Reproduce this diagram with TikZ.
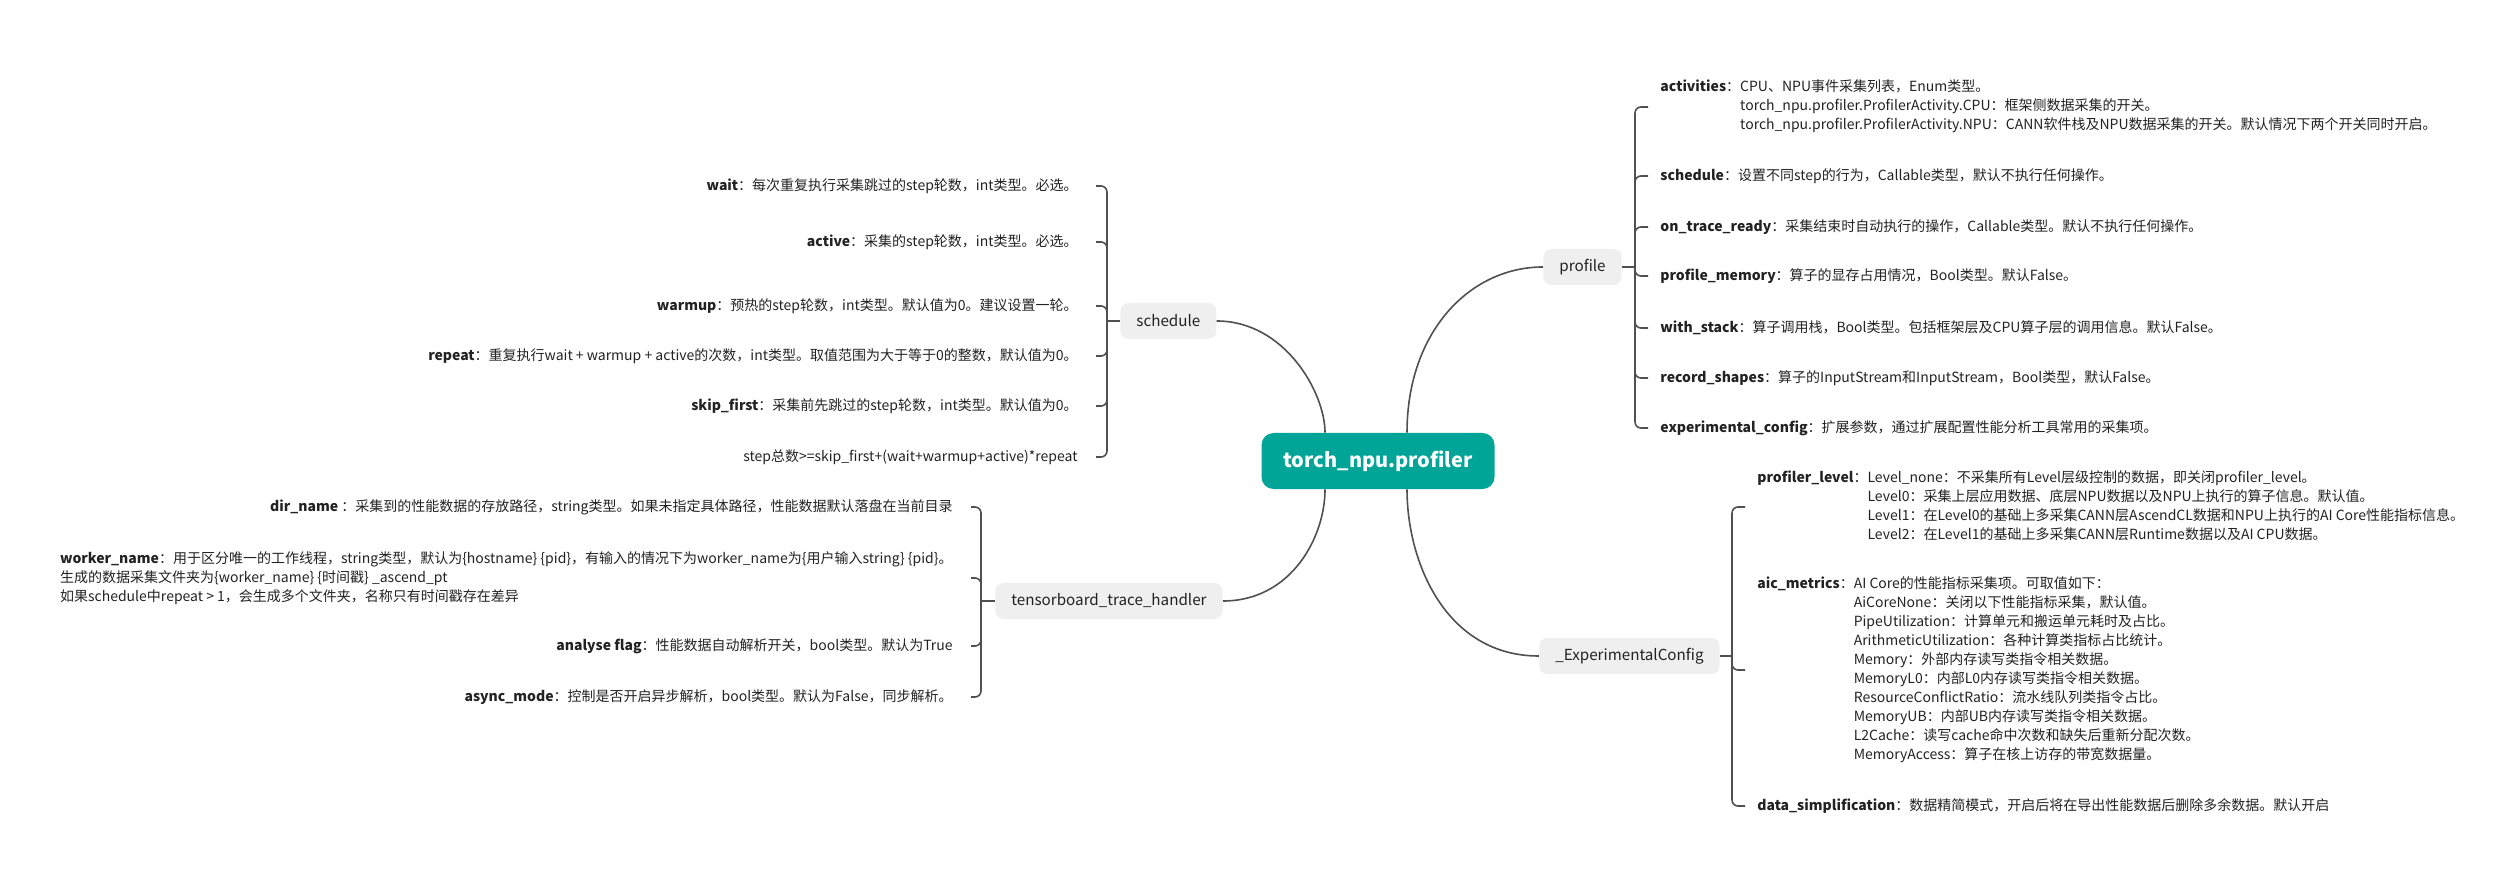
\documentclass[tikz,border=0pt]{standalone}
\usepackage{fontspec}
\setmainfont{Noto Sans CJK SC}
\usetikzlibrary{positioning}
\definecolor{rootteal}{RGB}{0,165,151}
\definecolor{topicgray}{RGB}{239,239,239}
\definecolor{linegray}{RGB}{80,80,80}
\definecolor{inkdark}{RGB}{34,34,34}
\tikzset{
  % Central topic
  root/.style={
    fill=rootteal, text=white, rounded corners=6pt,
    font=\fontsize{10}{12}\selectfont\bfseries,
    minimum height=28pt, inner xsep=11pt
  },
  % Main branches
  topic/.style={
    fill=topicgray, text=inkdark, rounded corners=4pt,
    font=\fontsize{7.6}{9.5}\selectfont,
    minimum height=18pt, inner xsep=8pt
  },
  % Leaf texts
  leaf/.style={
    text=inkdark, font=\fontsize{7}{9.5}\selectfont,
    inner xsep=6pt, inner ysep=1pt
  },
  leafL/.style={leaf, anchor=east, inner xsep=9pt},
  leafR/.style={leaf, anchor=west},
  % Connectors
  branch/.style={draw=linegray, line width=0.8pt},
  bracket/.style={draw=linegray, line width=0.8pt, rounded corners=3pt},
}
\newcommand{\itemkey}[1]{\textbf{#1}：}
\newcommand{\subrows}[1]{\begin{tabular}[t]{@{}l@{}}#1\end{tabular}}

\begin{document}
\begin{tikzpicture}[x=0.5pt, y=-0.5pt]
  \useasboundingbox (0,0) rectangle (2503,876);

  %% ── Topics ──
  \node[root] (root) at (1378,461) {torch\_npu.profiler};
  \node[topic, anchor=west] (sched) at (1120,321) {schedule};
  \node[topic, anchor=west] (tbh)   at (995,601)  {tensorboard\_trace\_handler};
  \node[topic, anchor=east] (prof)  at (1622,267) {profile};
  \node[topic, anchor=east] (expc)  at (1720,656) {\_ExperimentalConfig};

  \coordinate (rootNW) at ([xshift=-26.5pt]root.north);
  \coordinate (rootNE) at ([xshift=14.5pt]root.north);
  \coordinate (rootSW) at ([xshift=-26.5pt]root.south);
  \coordinate (rootSE) at ([xshift=14.5pt]root.south);

  \coordinate (schedJ) at (1107,321);
  \coordinate (tbhJ)   at (981,601);
  \coordinate (profJ)  at (1635,267);
  \coordinate (expcJ)  at (1732,656);

  %% ── schedule ──
  \node[leafL] (wait)      at (1096,186) {\itemkey{wait}每次重复执行采集跳过的step轮数，int类型。必选。};
  \node[leafL] (active)    at (1096,242) {\itemkey{active}采集的step轮数，int类型。必选。};
  \node[leafL] (warmup)    at (1096,306) {\itemkey{warmup}预热的step轮数，int类型。默认值为0。建议设置一轮。};
  \node[leafL] (repeat)    at (1096,356) {\itemkey{repeat}重复执行wait + warmup + active的次数，int类型。取值范围为大于等于0的整数，默认值为0。};
  \node[leafL] (skipfirst) at (1096,406) {\itemkey{skip\_first}采集前先跳过的step轮数，int类型。默认值为0。};
  \node[leafL] (stepsum)   at (1096,457) {step总数>=skip\_first+(wait+warmup+active)*repeat};

  %% ── tensorboard_trace_handler ──
  \node[leafL] (dirname) at (971,507) {\textbf{dir\_name}\ ：采集到的性能数据的存放路径，string类型。如果未指定具体路径，性能数据默认落盘在当前目录};
  \node[leafL, align=left] (worker) at (971,578) {\itemkey{worker\_name}用于区分唯一的工作线程，string类型，默认为\{hostname\} \{pid\}，有输入的情况下为worker\_name为\{用户输入string\} \{pid\}。\\
    生成的数据采集文件夹为\{worker\_name\} \{时间戳\} \_ascend\_pt\\
    如果schedule中repeat > 1，会生成多个文件夹，名称只有时间戳存在差异};
  \node[leafL] (analyse) at (971,646) {\itemkey{analyse flag}性能数据自动解析开关，bool类型。默认为True};
  \node[leafL] (asyncm)  at (971,697) {\itemkey{async\_mode}控制是否开启异步解析，bool类型。默认为False，同步解析。};

  %% ── profile ──
  \node[leafR] (acts) at (1648,107) {\itemkey{activities}\subrows{CPU、NPU事件采集列表，Enum类型。\\
    torch\_npu.profiler.ProfilerActivity.CPU：框架侧数据采集的开关。\\
    torch\_npu.profiler.ProfilerActivity.NPU：CANN软件栈及NPU数据采集的开关。默认情况下两个开关同时开启。}};
  \node[leafR] (psched)  at (1648,176) {\itemkey{schedule}设置不同step的行为，Callable类型，默认不执行任何操作。};
  \node[leafR] (ontrace) at (1648,227) {\itemkey{on\_trace\_ready}采集结束时自动执行的操作，Callable类型。默认不执行任何操作。};
  \node[leafR] (pmem)    at (1648,276) {\itemkey{profile\_memory}算子的显存占用情况，Bool类型。默认False。};
  \node[leafR] (wstack)  at (1648,328) {\itemkey{with\_stack}算子调用栈，Bool类型。包括框架层及CPU算子层的调用信息。默认False。};
  \node[leafR] (rshapes) at (1648,378) {\itemkey{record\_shapes}算子的InputStream和InputStream，Bool类型，默认False。};
  \node[leafR] (expconf) at (1648,428) {\itemkey{experimental\_config}扩展参数，通过扩展配置性能分析工具常用的采集项。};

  %% ── _ExperimentalConfig ──
  \node[leafR] (plevel) at (1745,507) {\itemkey{profiler\_level}\subrows{Level\_none：不采集所有Level层级控制的数据，即关闭profiler\_level。\\
    Level0：采集上层应用数据、底层NPU数据以及NPU上执行的算子信息。默认值。\\
    Level1：在Level0的基础上多采集CANN层AscendCL数据和NPU上执行的AI Core性能指标信息。\\
    Level2：在Level1的基础上多采集CANN层Runtime数据以及AI CPU数据。}};
  \node[leafR] (aicm) at (1745,670) {\itemkey{aic\_metrics}\subrows{AI Core的性能指标采集项。可取值如下：\\
    AiCoreNone：关闭以下性能指标采集，默认值。\\
    PipeUtilization：计算单元和搬运单元耗时及占比。\\
    ArithmeticUtilization：各种计算类指标占比统计。\\
    Memory：外部内存读写类指令相关数据。\\
    MemoryL0：内部L0内存读写类指令相关数据。\\
    ResourceConflictRatio：流水线队列类指令占比。\\
    MemoryUB：内部UB内存读写类指令相关数据。\\
    L2Cache：读写cache命中次数和缺失后重新分配次数。\\
    MemoryAccess：算子在核上访存的带宽数据量。}};
  \node[leafR] (datas) at (1745,806) {\itemkey{data\_simplification}数据精简模式，开启后将在导出性能数据后删除多余数据。默认开启};

  %% ── Curves from the root ──
  \draw[branch] (sched.east) .. controls +(68,0) and +(0,-40) .. (rootNW);
  \draw[branch] (tbh.east)   .. controls +(68,0) and +(0,48) .. (rootSW);
  \draw[branch] (rootNE) .. controls +(0,-101) and +(-73,0) .. (prof.west);
  \draw[branch] (rootSE) .. controls +(0,73) and +(-93,0) .. (expc.west);

  %% ── Brackets ──
  \draw[branch] (sched.west) -- (schedJ);
  \foreach \n in {wait,active,warmup,repeat,skipfirst,stepsum}
    \draw[bracket] (schedJ) |- (\n.east);
  \draw[branch] (tbh.west) -- (tbhJ);
  \foreach \n in {dirname,worker,analyse,asyncm}
    \draw[bracket] (tbhJ) |- (\n.east);
  \draw[branch] (prof.east) -- (profJ);
  \foreach \n in {acts,psched,ontrace,pmem,wstack,rshapes,expconf}
    \draw[bracket] (profJ) |- (\n.west);
  \draw[branch] (expc.east) -- (expcJ);
  \foreach \n in {plevel,aicm,datas}
    \draw[bracket] (expcJ) |- (\n.west);

\end{tikzpicture}
\end{document}
